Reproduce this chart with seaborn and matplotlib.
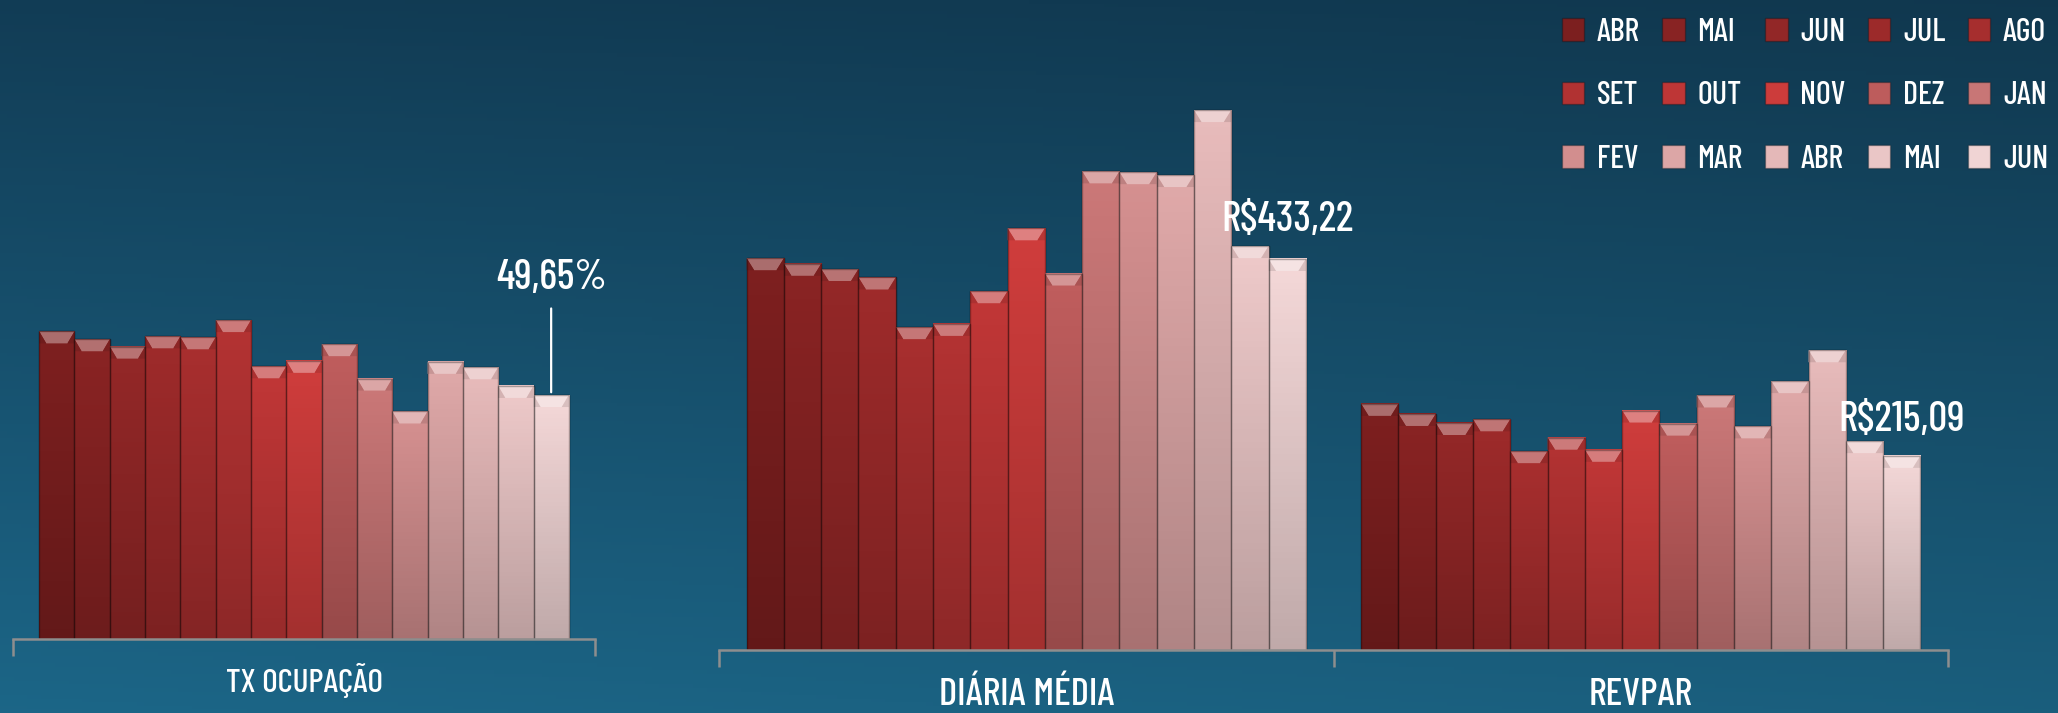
import numpy as np
import pandas as pd
import matplotlib
matplotlib.use("Agg")
import matplotlib.pyplot as plt
import seaborn as sns
from matplotlib import font_manager
from matplotlib.colors import to_rgb
from matplotlib.patches import Polygon

# dados
meses = ["ABR", "MAI", "JUN", "JUL", "AGO", "SET", "OUT", "NOV",
         "DEZ", "JAN", "FEV", "MAR", "ABR", "MAI", "JUN"]
tx_ocupacao = [62.6, 61.0, 59.5, 61.6, 61.4, 64.9, 55.5, 56.6,
               60.0, 53.0, 46.3, 56.4, 55.3, 51.5, 49.65]
diaria_media = [434.1, 427.9, 422.1, 412.7, 357.7, 361.3, 397.5, 467.2,
                417.1, 530.3, 529.4, 526.2, 598.2, 447.5, 433.22]
revpar = [272.7, 261.5, 251.5, 255.6, 220.3, 235.2, 221.8, 265.3,
          250.8, 282.0, 247.8, 297.9, 332.1, 231.4, 215.09]
rotulos = ["49,65%", "R$433,22", "R$215,09"]
cores = ["#7c1f1f", "#882323", "#922727", "#9c2a2a", "#a62e2e", "#b13232",
         "#be3636", "#cc3c3b", "#bd5c5c", "#c87676", "#d28e8e", "#dca6a6",
         "#e4b8b8", "#eac6c6", "#f0d4d4"]

# fonte estreita (primeira instalada)
nomes = {f.name for f in font_manager.fontManager.ttflist}
for fam in ["Barlow Condensed", "Asap Condensed", "Archivo Narrow", "DejaVu Sans"]:
    if fam in nomes:
        plt.rcParams["font.family"] = [fam, "DejaVu Sans"]
        break
plt.rcParams["font.weight"] = 500

chaves = [f"{i:02d}" for i in range(len(meses))]
paleta = dict(zip(chaves, cores))

df_tx = pd.DataFrame({"indicador": "TX OCUPAÇÃO", "mes": chaves, "valor": tx_ocupacao})
df_rs = pd.concat([
    pd.DataFrame({"indicador": "DIÁRIA MÉDIA", "mes": chaves, "valor": diaria_media}),
    pd.DataFrame({"indicador": "REVPAR", "mes": chaves, "valor": revpar}),
])

fig = plt.figure(figsize=(20.58, 7.13), dpi=100)

# fundo em degrade
fundo = fig.add_axes([0, 0, 1, 1], zorder=-10)
topo = np.array(to_rgb("#113a52"))
base = np.array(to_rgb("#1b6282"))
t = np.linspace(0, 1, 200)[:, None, None]
s = np.linspace(0, 1, 300)[None, :, None]
img = topo * (1 - t) + base * t
img = img * (1.04 - 0.08 * s)
fundo.imshow(np.clip(img, 0, 1), aspect="auto", extent=(0, 1, 0, 1), origin="upper")
fundo.axis("off")

W, H = 2058, 713
ax1 = fig.add_axes([13 / W, 74 / H, 582 / W, 639 / H])
ax2 = fig.add_axes([719 / W, 63 / H, 1229 / W, 650 / H])

kw = dict(x="indicador", y="valor", hue="mes", hue_order=chaves, palette=paleta,
          width=0.91, gap=0, dodge=True, saturation=1, errorbar=None,
          edgecolor="#00000040", linewidth=1)
sns.barplot(data=df_tx, ax=ax1, legend=True, **kw)
sns.barplot(data=df_rs, ax=ax2, legend=False, **kw)

handles, _ = ax1.get_legend_handles_labels()
ax1.get_legend().remove()

ylims = {ax1: 639 / 4.914, ax2: 650 / 0.9026}


def bevel(ax):
    ymax = ylims[ax]
    px = ymax / ax.bbox.height
    for p in list(ax.patches):
        x0, w, h = p.get_x(), p.get_width(), p.get_height()
        c = np.array(p.get_facecolor()[:3])
        z = p.get_zorder()
        t = np.linspace(0, 1, 64)[:, None, None]
        grad = c * (0.8 + 0.22 * t)
        ax.imshow(np.clip(grad, 0, 1), extent=(x0, x0 + w, 0, h), origin="lower",
                  aspect="auto", zorder=z + 0.1)
        hb = 12 * px
        claro = c + (1 - c) * 0.35
        lado = c * 0.9
        ax.add_patch(Polygon([(x0, h), (x0 + w, h), (x0 + w * 0.8, h - hb), (x0 + w * 0.2, h - hb)],
                             closed=True, facecolor=claro, edgecolor="none", zorder=z + 0.2))
        ax.add_patch(Polygon([(x0, h), (x0 + w * 0.2, h - hb), (x0, h - hb)],
                             closed=True, facecolor=lado, edgecolor="none", zorder=z + 0.2))
        ax.add_patch(Polygon([(x0 + w, h), (x0 + w * 0.8, h - hb), (x0 + w, h - hb)],
                             closed=True, facecolor=lado, edgecolor="none", zorder=z + 0.2))
        ax.add_patch(Polygon([(x0, 0), (x0 + w, 0), (x0 + w, h), (x0, h)], closed=True,
                             facecolor="none", edgecolor=(0, 0, 0, 0.3), lw=1,
                             zorder=z + 0.3))


for ax, n, fs, pad in [(ax1, 1, 24, 17), (ax2, 2, 28, 20)]:
    bevel(ax)
    ax.set_xlim(-0.5, n - 0.5)
    ax.set_ylim(0, ylims[ax])
    ax.set_facecolor("none")
    for lado in ["left", "top", "right"]:
        ax.spines[lado].set_visible(False)
    ax.spines["bottom"].set_color("#8e8e8e")
    ax.spines["bottom"].set_linewidth(1.8)
    ax.set_yticks([])
    ax.set_xlabel("")
    ax.set_ylabel("")
    ax.set_xticks(np.arange(-0.5, n, 1.0), minor=True)
    ax.tick_params(axis="x", which="minor", length=12, width=1.8, color="#8e8e8e", direction="out")
    ax.tick_params(axis="x", which="major", length=0, pad=pad, labelsize=fs, labelcolor="white")

# rotulos do ultimo mes
p1 = sorted(ax1.patches[:15], key=lambda p: p.get_x())[-1]
ax1.annotate(rotulos[0], xy=(p1.get_x() + p1.get_width() / 2, p1.get_height()),
             xytext=(0, 84), textcoords="offset points", ha="center", va="center",
             fontsize=30, color="white",
             arrowprops=dict(arrowstyle="-", color="white", lw=1.6, shrinkA=6, shrinkB=2))

barras2 = sorted(ax2.patches[:30], key=lambda p: p.get_x())
for p, txt, dy in [(barras2[14], rotulos[1], 28), (barras2[29], rotulos[2], 26)]:
    ax2.annotate(txt, xy=(p.get_x() + p.get_width() / 2, p.get_height()),
                 xytext=(0, dy), textcoords="offset points", ha="center", va="center",
                 fontsize=30, color="white")

# legenda em linhas de 5
ordem = [r * 5 + c for c in range(5) for r in range(3)]
fig.legend([handles[i] for i in ordem], [meses[i] for i in ordem], ncol=5,
           loc="upper right", bbox_to_anchor=(2061 / W, 1 - 5 / H), frameon=False,
           borderaxespad=0, fontsize=23, labelcolor="white", handlelength=0.7,
           handleheight=0.7, handletextpad=0.4, columnspacing=0.7, labelspacing=1.08)

fig.savefig("out.png", dpi=100)
